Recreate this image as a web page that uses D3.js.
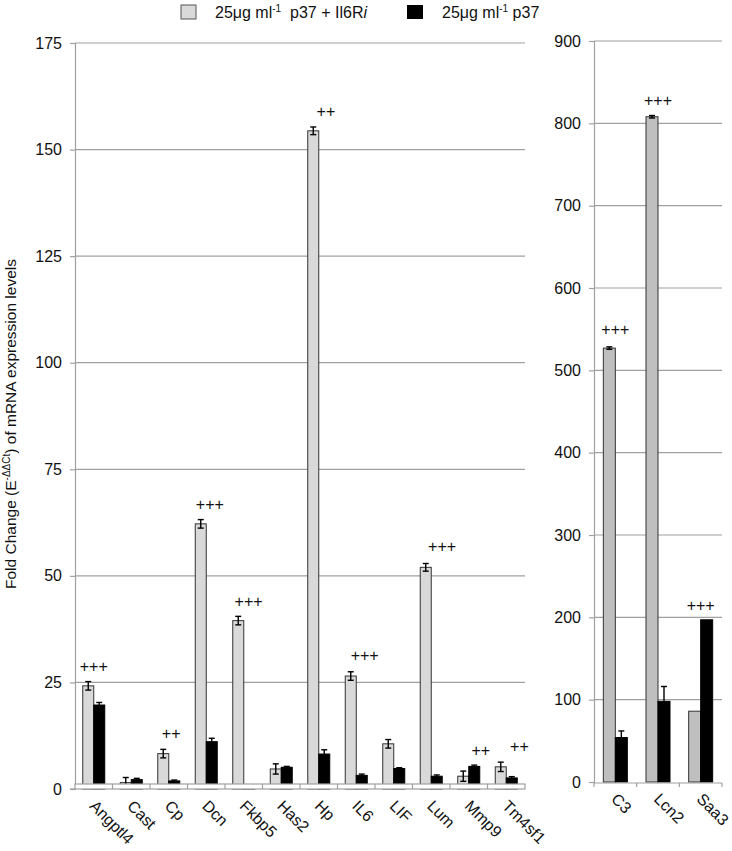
<!DOCTYPE html>
<html><head><meta charset="utf-8">
<script src="https://cdn.jsdelivr.net/npm/d3@7"></script>
<style>body{margin:0;background:#fff}svg{display:block;font-family:"Liberation Sans",Arial,sans-serif}</style>
</head><body><svg id="c" width="732" height="851"></svg>
<script>
// ---- data ----
const leftCats = ["Angptl4","Cast","Cp","Dcn","Fkbp5","Has2","Hp","IL6","LIF","Lum","Mmp9","Tm4sf1"];
const leftGray = [24.2,1.5,8.3,62.2,39.5,4.7,154.4,26.5,10.6,52.0,3.0,5.2];
const leftGrayErr = [1.0,1.2,1.0,1.0,1.0,1.2,0.9,1.0,1.0,0.9,1.2,1.1];
const leftBlack = [19.7,2.2,1.9,11.1,0.4,5.1,8.2,3.2,4.8,3.0,5.3,2.6];
const leftBlackErr = [0.6,0.3,0.2,0.8,0.2,0.2,1.0,0.3,0.2,0.3,0.3,0.3];
const leftAnnText = ["+++","","++","+++","+++","","++","+++","","+++","++","++"];
const leftAnnVal = [28.7,0,13.0,66.8,44.0,0,159.0,31.3,0,56.8,9.0,9.9];
const leftTicks = [0,25,50,75,100,125,150,175];

const rightCats = ["C3","Lcn2","Saa3"];
const rightGray = [527,808,86];
const rightGrayErr = [1.5,1.5,0];
const rightBlack = [54,98,197];
const rightBlackErr = [8,18,0];
const rightAnnText = ["+++","+++","+++"];
const rightAnnVal = [550,828,214];
const rightTicks = [0,100,200,300,400,500,600,700,800,900];

const legendLabels = ["25μg ml", "25μg ml"];

// ---- drawing ----
const svg = d3.select("#c");
const gridCol = "#a0a0a0";

function panel(opt){
  const {cats, gray, grayErr, black, blackErr, annText, annVal, ticks, x0, x1, yTop, yBot, yMax, barW, grayFill, floor, annShift} = opt;
  const x = d3.scaleBand().domain(cats).range([x0,x1]);
  const po = (x.bandwidth()/barW - 2)/2;
  const sub = d3.scaleBand().domain(["g","b"]).range([0,x.bandwidth()]).paddingInner(0).paddingOuter(po);
  const y = d3.scaleLinear().domain([0,yMax]).range([yBot,yTop]);
  const g = svg.append("g");
  g.selectAll(".grid").data(ticks.filter(t=>t>0)).join("line")
    .attr("x1",x0).attr("x2",x1).attr("y1",d=>y(d)).attr("y2",d=>y(d))
    .attr("stroke",gridCol).attr("stroke-width",1.2);
  const ax = d3.axisLeft(y).tickValues(ticks).tickSize(5).tickPadding(8);
  const ag = g.append("g").attr("transform",`translate(${x0},0)`).call(ax);
  ag.select(".domain").attr("stroke",gridCol).attr("stroke-width",1.2);
  ag.selectAll(".tick line").attr("stroke",gridCol).attr("stroke-width",1.2);
  ag.selectAll(".tick text").attr("font-size",16).attr("fill","#111").attr("font-family","Liberation Sans, Arial, sans-serif");
  const rows = cats.map((c,i)=>({c,i}));
  g.selectAll(".bg").data(rows).join("rect")
    .attr("x",d=>x(d.c)+sub("g")).attr("width",sub.bandwidth())
    .attr("y",d=>y(gray[d.i])).attr("height",d=>y(0)-y(gray[d.i]))
    .attr("fill",grayFill).attr("stroke","#333").attr("stroke-width",1);
  g.selectAll(".bb").data(rows).join("rect")
    .attr("x",d=>x(d.c)+sub("b")).attr("width",sub.bandwidth())
    .attr("y",d=>y(black[d.i])).attr("height",d=>y(0)-y(black[d.i]))
    .attr("fill","#000").attr("stroke","#000").attr("stroke-width",1);
  const errs = [];
  rows.forEach(d=>{
    if(grayErr[d.i]>0) errs.push({cx:x(d.c)+sub("g")+sub.bandwidth()/2, v:gray[d.i], e:grayErr[d.i]});
    if(blackErr[d.i]>0) errs.push({cx:x(d.c)+sub("b")+sub.bandwidth()/2, v:black[d.i], e:blackErr[d.i]});
  });
  const eg = g.selectAll(".err").data(errs).join("g").attr("stroke","#000").attr("stroke-width",1.4);
  eg.append("line").attr("x1",d=>d.cx).attr("x2",d=>d.cx).attr("y1",d=>y(d.v+d.e)).attr("y2",d=>y(Math.max(0,d.v-d.e)));
  eg.append("line").attr("x1",d=>d.cx-3).attr("x2",d=>d.cx+3).attr("y1",d=>y(d.v+d.e)).attr("y2",d=>y(d.v+d.e));
  eg.append("line").attr("x1",d=>d.cx-3).attr("x2",d=>d.cx+3).attr("y1",d=>y(Math.max(0,d.v-d.e))).attr("y2",d=>y(Math.max(0,d.v-d.e)));
  if(floor){
    g.append("rect").attr("x",x0).attr("y",y(0)-5).attr("width",x1-x0).attr("height",5)
      .attr("fill","#fff").attr("stroke",gridCol).attr("stroke-width",1.2);
    g.append("line").attr("x1",x0-5).attr("x2",x0).attr("y1",y(0)).attr("y2",y(0)).attr("stroke",gridCol).attr("stroke-width",1.2);
    g.selectAll(".sep").data(cats.slice(1)).join("line")
      .attr("x1",d=>x(d)).attr("x2",d=>x(d)).attr("y1",y(0)-5).attr("y2",y(0))
      .attr("stroke",gridCol).attr("stroke-width",1.2);
  } else {
    g.append("line").attr("x1",x0).attr("x2",x1).attr("y1",y(0)+1).attr("y2",y(0)+1).attr("stroke",gridCol).attr("stroke-width",1.2);
    g.selectAll(".sep").data(cats.concat(["_end"])).join("line")
      .attr("x1",(d,i)=>x0+i*x.step()).attr("x2",(d,i)=>x0+i*x.step()).attr("y1",y(0)+1).attr("y2",y(0)+5)
      .attr("stroke",gridCol).attr("stroke-width",1.2);
  }
  g.selectAll(".ann").data(rows.filter(d=>annText[d.i])).join("text")
    .attr("x",d=>x(d.c)+x.bandwidth()/2+annShift*d.i).attr("y",d=>y(annVal[d.i]))
    .attr("dy","0.35em").attr("text-anchor","middle").attr("font-size",16).attr("fill","#111")
    .text(d=>annText[d.i]);
  g.selectAll(".cl").data(cats).join("text")
    .attr("transform",d=>`translate(${x(d)+x.bandwidth()/2-5},${yBot+18}) rotate(45)`)
    .attr("font-size",16).attr("fill","#111").text(d=>d);
}

panel({cats:leftCats, gray:leftGray, grayErr:leftGrayErr, black:leftBlack, blackErr:leftBlackErr,
  annText:leftAnnText, annVal:leftAnnVal, ticks:leftTicks, x0:75, x1:525, yTop:43, yBot:789, yMax:175,
  barW:11, grayFill:"#d9d9d9", floor:true, annShift:1.2});
panel({cats:rightCats, gray:rightGray, grayErr:rightGrayErr, black:rightBlack, blackErr:rightBlackErr,
  annText:rightAnnText, annVal:rightAnnVal, ticks:rightTicks, x0:594, x1:722, yTop:41, yBot:782, yMax:900,
  barW:12, grayFill:"#bfbfbf", floor:false, annShift:0});

const yt = svg.append("text").attr("transform","translate(16,424) rotate(-90)")
  .attr("text-anchor","middle").attr("font-size",15.5).attr("fill","#111");
yt.append("tspan").text("Fold Change (E");
yt.append("tspan").attr("font-size",10).attr("dy",-6).text("-ΔΔCt");
yt.append("tspan").attr("dy",6).text(") of mRNA expression levels");

const lg = svg.append("g");
lg.append("rect").attr("x",181).attr("y",5).attr("width",15).attr("height",14).attr("fill","#d9d9d9").attr("stroke","#555");
const t1 = lg.append("text").attr("x",215).attr("y",18).attr("font-size",16).attr("fill","#111");
t1.append("tspan").text(legendLabels[0]);
t1.append("tspan").attr("font-size",10).attr("dy",-6).text("-1");
t1.append("tspan").attr("dy",6).text("\u00a0\u00a0p37 + Il6R");
t1.append("tspan").attr("font-style","italic").text("i");
lg.append("rect").attr("x",407).attr("y",5).attr("width",16).attr("height",14).attr("fill","#000");
const t2 = lg.append("text").attr("x",442).attr("y",18).attr("font-size",16).attr("fill","#111");
t2.append("tspan").text(legendLabels[1]);
t2.append("tspan").attr("font-size",10).attr("dy",-6).text("-1");
t2.append("tspan").attr("dy",6).text(" p37");
</script></body></html>
